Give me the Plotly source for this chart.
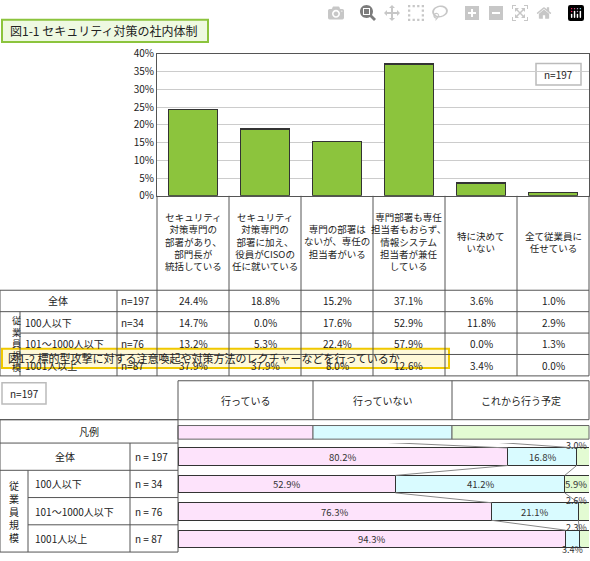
import plotly.graph_objects as go

W, H = 590, 561
FONT = "Noto Sans CJK JP"

# ---- data: figure 1-1 ----
categories = ["セキュリティ<br>対策専門の<br>部署があり、<br>部門長が<br>統括している",
              "セキュリティ<br>対策専門の<br>部署に加え、<br>役員がCISOの<br>任に就いている",
              "専門の部署は<br>ないが、専任の<br>担当者がいる",
              "専門部署も専任<br>担当者もおらず、<br>情報システム<br>担当者が兼任<br>している",
              "特に決めて<br>いない",
              "全て従業員に<br>任せている"]
overall = [24.4, 18.8, 15.2, 37.1, 3.6, 1.0]
row_labels = ["全体", "100人以下", "101～1000人以下", "1001人以上"]
row_n = ["n=197", "n=34", "n=76", "n=87"]
table_values = [
    [24.4, 18.8, 15.2, 37.1, 3.6, 1.0],
    [14.7, 0.0, 17.6, 52.9, 11.8, 2.9],
    [13.2, 5.3, 22.4, 57.9, 0.0, 1.3],
    [37.9, 37.9, 8.0, 12.6, 3.4, 0.0],
]
y_ticks = [0, 5, 10, 15, 20, 25, 30, 35, 40]
y_ticktext = [f"{t}%" for t in y_ticks]

# ---- data: figure 1-2 ----
series2 = ["行っている", "行っていない", "これから行う予定"]
rows2 = ["全体", "100人以下", "101～1000人以下", "1001人以上"]
n2 = ["n = 197", "n = 34", "n = 76", "n = 87"]
doing = [80.2, 52.9, 76.3, 94.3]
not_doing = [16.8, 41.2, 21.1, 3.4]
planning = [3.0, 5.9, 2.6, 2.3]
colors2 = ["#fde3fb", "#d9fbff", "#e3fbd3"]

def px(x): return x / W
def py(y): return 1 - y / H

fig = go.Figure()
fig.add_trace(go.Bar(x=list(range(6)), y=overall, marker=dict(color="#8cc43d", line=dict(color="#333", width=1.2)),
                     xaxis="x", yaxis="y", showlegend=False, width=0.67))

ser_vals = [doing, not_doing, planning]
for name, vals, c in zip(series2, ser_vals, colors2):
    fig.add_trace(go.Bar(y=list(range(4)), x=vals, orientation="h", name=name, xaxis="x2", yaxis="y2",
                         marker=dict(color=c, line=dict(color="#333", width=1)), width=0.64, showlegend=False))

shapes, ann = [], []
def line(x0, y0, x1, y1, c="#555", w=1):
    shapes.append(dict(type="line", x0=x0, y0=y0, x1=x1, y1=y1, xref="paper", yref="paper",
                       line=dict(color=c, width=w)))
def rect(x0, y0, x1, y1, fill, c="#555", w=1):
    shapes.append(dict(type="rect", x0=px(x0), y0=py(y0), x1=px(x1), y1=py(y1), xref="paper", yref="paper",
                       fillcolor=fill, line=dict(color=c, width=w), layer="below"))
def text(x, y, t, size=10, xa="center", color="#222"):
    ann.append(dict(x=px(x), y=py(y), xref="paper", yref="paper", text=t, showarrow=False, xanchor=xa,
                    yanchor="middle", font=dict(size=size, family=FONT, color=color)))

rect(2, 12, 208, 35, "#eef9e1", "#8cc43d", 2)
text(8, 23, "図1-1 セキュリティ対策の社内体制", 12, "left")
rect(2, 350, 449, 370, "#fff9d8", "#f0c800", 2)
text(6, 360, "図1-2 標的型攻撃に対する注意喚起や対策方法のレクチャーなどを行っているか", 11, "left")
rect(536, 57, 581, 79, "white", "#bbb", 1.5)
text(558, 68, "n=197", 10)
rect(2, 385, 46, 407, "white", "#bbb", 1.5)
text(24, 396, "n=197", 10)

colx = [157, 229, 301, 373, 445, 517, 589]
rowy = [290, 312, 334, 356, 378]
for i, c in enumerate(categories):
    text((colx[i] + colx[i + 1]) / 2, 240, c, 9.5)
for x in colx:
    line(px(x), py(193), px(x), py(378))
line(px(117), py(290), px(117), py(378))
line(px(20), py(312), px(20), py(378))
line(px(0), py(290), px(0), py(378))
for j, y in enumerate(rowy):
    x0 = 0 if j in (0, 1, 4) else 20
    line(px(x0), py(y), px(589), py(y))
for r in range(4):
    yc = (rowy[r] + rowy[r + 1]) / 2
    if r == 0:
        text(58, yc, row_labels[r])
    else:
        text(23, yc, row_labels[r], 10, "left")
    text(119, yc, row_n[r], 10, "left")
    for i, v in enumerate(table_values[r]):
        text((colx[i] + colx[i + 1]) / 2, yc, f"{v:.1f}%")
ann.append(dict(x=px(10), y=py(345), xref="paper", yref="paper", text="従<br>業<br>員<br>規<br>模",
                showarrow=False, font=dict(size=9, family=FONT, color="#222"), yanchor="middle"))

hx = [178, 313, 452, 589]
line(px(178), py(383), px(589), py(383))
line(px(0), py(423), px(589), py(423))
for x in hx:
    line(px(x), py(383), px(x), py(423))
for i, s in enumerate(series2):
    text((hx[i] + hx[i + 1]) / 2, 403, s)
    rect(hx[i], 429, hx[i + 1], 443, colors2[i], "#666", 1)
rows_y = [423, 447, 475, 503, 531, 559]
line(px(0), py(423), px(0), py(559))
line(px(178), py(423), px(178), py(559))
line(px(130), py(447), px(130), py(559))
line(px(28), py(475), px(28), py(559))
for j, y in enumerate(rows_y):
    x0 = 0 if j in (0, 1, 2, 5) else 28
    line(px(x0), py(y), px(178), py(y))
text(89, 435, "凡例")
for r in range(4):
    yc = (rows_y[r + 1] + rows_y[r + 2]) / 2
    if r == 0:
        text(65, yc, rows2[r])
    else:
        text(33, yc, rows2[r], 10, "left")
    text(133, yc, n2[r], 10, "left")
text(14, 517, "従<br>業<br>員<br>規<br>模", 10)

for r in range(4):
    segs = [doing[r], not_doing[r], planning[r]]
    start = 0
    for k, v in enumerate(segs):
        mid = start + v / 2
        if v >= 5:
            xa = "right" if k == 2 else "center"
            ann.append(dict(x=100 if k == 2 else mid, y=r, xref="x2", yref="y2", text=f"{v:.1f}%",
                            showarrow=False, xanchor=xa, font=dict(size=9.5, family=FONT, color="#333")))
        else:
            yy = r + 0.4 if k == 1 else r - 0.42
            ann.append(dict(x=100 if k == 2 else mid, y=yy, xref="x2", yref="y2", text=f"{v:.1f}%",
                            showarrow=False, xanchor="right" if k == 2 else "center",
                            font=dict(size=9, family=FONT, color="#333")))
        start += v
    cum = [doing[r], doing[r] + not_doing[r]]
    if r < 3:
        nxt = [doing[r + 1], doing[r + 1] + not_doing[r + 1]]
        for a, b in zip(cum, nxt):
            shapes.append(dict(type="line", x0=a, x1=b, y0=r + 0.32, y1=r + 0.68, xref="x2", yref="y2",
                               line=dict(color="#888", width=1)))
for a, b in zip([100 / 3, 200 / 3], [doing[0], doing[0] + not_doing[0]]):
    shapes.append(dict(type="line", x0=a, x1=b, y0=-0.64, y1=-0.32, xref="x2", yref="y2",
                       line=dict(color="#888", width=1)))

fig.update_layout(
    width=W, height=H, margin=dict(l=0, r=0, t=0, b=0), plot_bgcolor="white", paper_bgcolor="white",
    barmode="stack", bargap=0.34, shapes=shapes, annotations=ann,
    font=dict(family=FONT, size=10, color="#222"),
    xaxis=dict(domain=[px(157), px(589)], range=[-0.5, 5.5], showticklabels=False, showgrid=False,
               zeroline=False, showline=True, linecolor="#555", mirror=True),
    yaxis=dict(domain=[py(193), py(47)], range=[0, 40], tickvals=y_ticks, ticktext=y_ticktext, gridcolor="#ccc",
               showline=True, linecolor="#555", mirror=True, zeroline=False, ticks="", tickfont=dict(size=10)),
    xaxis2=dict(domain=[px(178), px(589)], range=[0, 100], visible=False),
    yaxis2=dict(domain=[py(559.6), py(447)], range=[3.5, -0.5], visible=False),
)
fig.write_html("out.html", post_script="document.body.style.margin='0';document.body.style.overflow='hidden';")
